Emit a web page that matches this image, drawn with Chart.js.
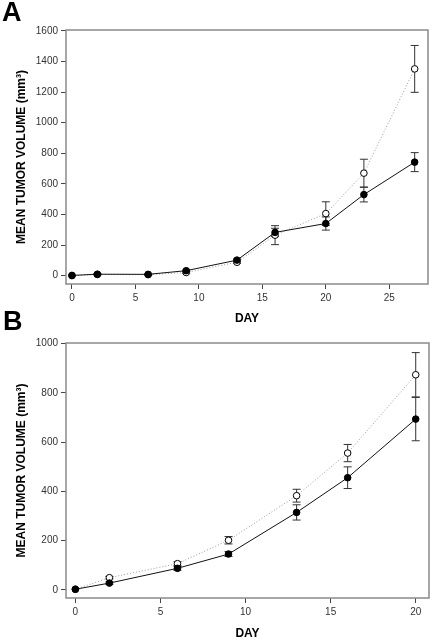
<!DOCTYPE html>
<html>
<head>
<meta charset="utf-8">
<script src="https://cdn.jsdelivr.net/npm/chart.js@4.4.1/dist/chart.umd.min.js"></script>
<style>
body { margin: 0; background: #fff; }
#wrap { position: relative; width: 434px; height: 642px; overflow: hidden; }
canvas { position: absolute; left: 0; }
.lbl { position: absolute; font: bold 27px Arial, "Liberation Sans", sans-serif; line-height: 30px; color: #000; }
</style>
</head>
<body>
<div id="wrap">
  <canvas id="chartA" width="434" height="330" style="top:0"></canvas>
  <canvas id="chartB" width="434" height="330" style="top:312px"></canvas>
  <div class="lbl" style="left:2px;top:-3px">A</div>
  <div class="lbl" style="left:3px;top:306px">B</div>
</div>
<script>
// panel A
const daysA = [0, 2, 6, 9, 13, 16, 20, 23, 27];
const filledA = [2, 10, 9, 33, 102, 283, 341, 530, 742];
const filledErrA = [0, 3, 3, 5, 8, 27, 43, 48, 62];
const openA = [1, 8, 7, 21, 88, 265, 406, 670, 1351];
const openErrA = [0, 3, 3, 5, 8, 62, 77, 91, 153];
const xTicksA = [0, 5, 10, 15, 20, 25];
const yTicksA = [0, 200, 400, 600, 800, 1000, 1200, 1400, 1600];

// panel B
const daysB = [0, 2, 6, 9, 13, 16, 20];
const filledB = [3, 28, 88, 146, 315, 456, 694];
const filledErrB = [0, 5, 8, 10, 31, 44, 88];
const openB = [3, 50, 107, 202, 383, 556, 874];
const openErrB = [0, 5, 8, 15, 26, 35, 90];
const xTicksB = [0, 5, 10, 15, 20];
const yTicksB = [0, 200, 400, 600, 800, 1000];

const FONT = 'Arial, "Liberation Sans", sans-serif';
const yTitle = 'MEAN TUMOR VOLUME (mm\u00B3)';

// frame + error bars, drawn under the markers
const errorBarPlugin = {
  id: 'errorBars',
  beforeDatasetsDraw(chart) {
    const c = chart.ctx;
    const area = chart.chartArea;
    const yScale = chart.scales.y;
    c.save();
    c.strokeStyle = '#8a8a8a';
    c.lineWidth = 1.5;
    c.strokeRect(area.left, area.top, area.right - area.left, area.bottom - area.top);

    c.strokeStyle = '#333';
    c.lineWidth = 1;
    chart.data.datasets.forEach(function (ds, i) {
      let meta = chart.getDatasetMeta(i);
      ds.data.forEach(function (p, j) {
        let e = ds.errors[j];
        if (!e) return;
        let x = meta.data[j].x;
        let top = yScale.getPixelForValue(p.y + e);
        let bot = yScale.getPixelForValue(p.y - e);
        c.beginPath();
        c.moveTo(x, top); c.lineTo(x, bot);
        c.moveTo(x - 4, top); c.lineTo(x + 4, top);
        c.moveTo(x - 4, bot); c.lineTo(x + 4, bot);
        c.stroke();
      });
    });
    c.restore();
  }
};

function toPoints(xs, ys) {
  return xs.map(function (x, i) { return {x: x, y: ys[i]}; });
}

function makeChart(id, p) {
  let ctx = document.getElementById(id);
  return new Chart(ctx, {
    type: 'line',
    data: {
      datasets: [{
        data: toPoints(p.days, p.filled),
        errors: p.filledErr,
        borderColor: '#111',
        borderWidth: 1,
        pointRadius: 3.3,
        pointBackgroundColor: '#000',
        pointBorderColor: '#000',
        pointBorderWidth: 1
      }, {
        data: toPoints(p.days, p.open),
        errors: p.openErr,
        borderColor: '#999',
        borderWidth: 1,
        borderDash: [1, 2],
        pointRadius: 3.3,
        pointBackgroundColor: '#fff',
        pointBorderColor: '#000',
        pointBorderWidth: 1
      }]
    },
    options: {
      responsive: false,
      animation: false,
      devicePixelRatio: 1,
      layout: { padding: { top: p.padTop, right: p.padRight, left: 0, bottom: 0 } },
      plugins: { legend: { display: false }, tooltip: { enabled: false } },
      scales: {
        x: {
          type: 'linear',
          min: p.xMin, max: p.xMax,
          afterBuildTicks: function (s) { s.ticks = p.xTicks.map(function (v) { return {value: v}; }); },
          afterFit: function (s) { s.height = p.xHeight; },
          grid: { drawOnChartArea: false, tickLength: 5, color: '#444' },
          border: { display: false },
          ticks: { color: '#333', padding: 3, font: { family: FONT, size: 10 }, maxRotation: 0,
                   callback: function (v) { return String(v); } },
          title: { display: true, text: 'DAY', color: '#000', padding: { top: 0, bottom: p.dayPad },
                   font: { family: FONT, size: 12, weight: 'bold' } }
        },
        y: {
          min: p.yMin, max: p.yMax,
          afterBuildTicks: function (s) { s.ticks = p.yTicks.map(function (v) { return {value: v}; }); },
          afterFit: function (s) { s.width = 66; },
          grid: { drawOnChartArea: false, tickLength: 5, color: '#444' },
          border: { display: false },
          ticks: { color: '#333', padding: 3, font: { family: FONT, size: 10 },
                   callback: function (v) { return String(v); } },
          title: { display: true, text: yTitle, color: '#000', padding: { top: 14, bottom: 0 },
                   font: { family: FONT, size: 12, weight: 'bold' } }
        }
      }
    },
    plugins: [errorBarPlugin]
  });
}

var chartA = makeChart('chartA', {
  days: daysA, filled: filledA, filledErr: filledErrA, open: openA, openErr: openErrA,
  xTicks: xTicksA, yTicks: yTicksA,
  xMin: -0.47, xMax: 28.05, yMin: -54, yMax: 1605,
  padTop: 30, padRight: 6, xHeight: 46, dayPad: 4
});

var chartB = makeChart('chartB', {
  days: daysB, filled: filledB, filledErr: filledErrB, open: openB, openErr: openErrB,
  xTicks: xTicksB, yTicks: yTicksB,
  xMin: -0.55, xMax: 20.78, yMin: -32.5, yMax: 1003,
  padTop: 31, padRight: 5, xHeight: 44, dayPad: 1
});
</script>
</body>
</html>
